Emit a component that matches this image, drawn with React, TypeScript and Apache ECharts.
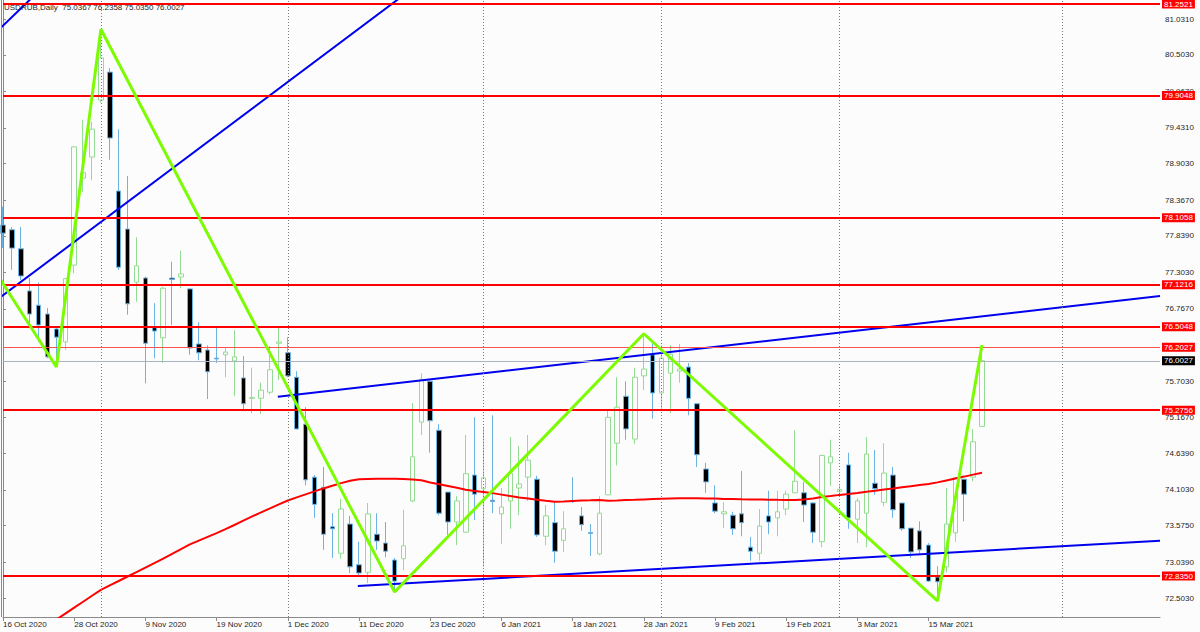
import React, { useEffect, useRef } from "react";
import * as echarts from "echarts";

const symbolName = "USDRUB";
const periodName = "Daily";

const dateLabels = [
  "16 Oct 2020", "28 Oct 2020", "9 Nov 2020", "19 Nov 2020", "1 Dec 2020",
  "11 Dec 2020", "23 Dec 2020", "6 Jan 2021", "18 Jan 2021", "28 Jan 2021",
  "9 Feb 2021", "19 Feb 2021", "3 Mar 2021", "15 Mar 2021",
];

const opens = [
  78.00, 77.93, 77.65, 77.03, 76.82, 76.69, 76.47, 76.28, 77.41, 78.69,
  79.00, 79.84, 80.25, 78.50, 77.94, 77.16, 77.22, 76.49, 76.34, 77.22,
  77.235, 77.06, 76.25, 76.16, 76.04, 76.09, 76.00, 75.75, 75.45, 75.45,
  75.54, 76.26, 76.12, 75.76, 75.07, 74.29, 74.14, 73.56, 73.17, 73.60,
  73.00, 72.89, 73.45, 73.32, 73.07, 73.09, 73.94, 75.10, 75.70, 74.98,
  74.07, 73.63, 73.48, 74.32, 74.12, 73.95, 73.75, 73.94, 74.13, 74.29,
  74.26, 73.42, 73.62, 73.36, 73.94, 73.72, 73.475, 73.16, 74.03, 74.79,
  75.48, 74.85, 75.78, 76.09, 75.53, 75.82, 75.85, 75.91, 75.37, 74.41,
  73.91, 73.75, 73.73, 73.75, 73.26, 73.17, 73.72, 73.69, 73.82, 74.06,
  74.06, 73.91, 73.34, 74.50, 74.08, 74.47, 73.67, 73.76, 74.20, 73.92,
  74.32, 73.91, 73.54, 73.50, 73.29, 72.82, 72.97, 73.47, 74.26, 74.29,
  75.0367,
];
const highs = [
  78.27, 77.97, 77.97, 77.22, 77.15, 76.78, 76.50, 77.22, 79.16, 79.55,
  79.52, 80.88, 80.31, 79.41, 78.72, 77.82, 77.24, 76.85, 77.09, 77.46,
  77.62, 77.07, 76.57, 76.23, 76.51, 76.19, 76.45, 76.07, 75.90, 75.68,
  76.22, 76.50, 76.35, 75.85, 75.32, 74.32, 74.44, 73.76, 73.97, 73.72,
  73.34, 73.91, 73.76, 73.63, 73.10, 73.81, 75.38, 75.82, 75.73, 75.07,
  74.07, 74.01, 74.91, 75.17, 75.03, 75.20, 74.13, 74.88, 74.75, 74.91,
  74.31, 73.88, 73.92, 73.79, 74.29, 73.85, 73.60, 74.01, 75.28, 75.76,
  75.70, 75.90, 76.40, 76.26, 76.23, 76.23, 76.25, 75.97, 75.37, 74.50,
  74.17, 73.92, 73.78, 74.38, 73.41, 73.82, 74.09, 74.09, 74.09, 74.98,
  74.22, 73.92, 74.62, 74.84, 74.17, 74.65, 73.98, 74.88, 74.69, 74.79,
  74.44, 73.91, 73.54, 73.64, 73.32, 72.98, 74.13, 74.29, 74.26, 75.00,
  76.2358,
];
const lows = [
  77.66, 77.34, 77.19, 76.50, 76.28, 76.04, 75.91, 76.16, 77.29, 78.49,
  78.66, 79.80, 78.96, 77.34, 76.68, 76.87, 75.67, 76.04, 75.97, 76.53,
  77.07, 76.09, 76.01, 75.44, 75.97, 75.76, 75.48, 75.26, 75.23, 75.22,
  75.51, 75.72, 75.76, 74.99, 74.17, 73.69, 73.22, 73.10, 73.09, 72.88,
  72.82, 72.73, 73.22, 73.11, 72.60, 72.92, 73.92, 74.91, 74.65, 73.73,
  73.44, 73.29, 73.48, 73.66, 72.97, 73.76, 73.31, 73.53, 73.73, 73.94,
  73.41, 73.29, 73.03, 73.19, 73.91, 73.50, 73.13, 73.14, 74.03, 74.46,
  74.84, 74.78, 75.57, 75.15, 75.29, 75.23, 75.68, 75.20, 74.44, 74.06,
  73.76, 73.54, 73.44, 73.42, 73.06, 73.06, 73.45, 73.42, 73.73, 74.06,
  73.63, 73.32, 73.26, 74.16, 74.03, 73.53, 73.32, 73.26, 74.03, 73.86,
  73.69, 73.50, 73.10, 73.17, 72.75, 72.47, 72.89, 73.34, 73.64, 74.23,
  75.035,
];
const closes = [
  77.88, 77.66, 77.25, 76.69, 76.53, 76.06, 76.35, 77.21, 79.15, 78.77,
  79.41, 80.46, 79.28, 77.38, 76.84, 77.40, 76.26, 76.44, 77.07, 77.20,
  77.28, 76.19, 76.12, 75.84, 76.03, 76.13, 76.06, 75.37, 75.46, 75.57,
  75.87, 76.28, 75.78, 75.00, 74.25, 73.89, 73.45, 73.53, 73.82, 72.97,
  72.88, 73.75, 73.35, 73.20, 72.76, 73.28, 74.59, 75.73, 75.12, 73.76,
  73.63, 73.94, 74.34, 74.04, 74.28, 73.93, 73.85, 74.35, 74.19, 74.54,
  73.44, 73.72, 73.20, 73.53, 73.93, 73.59, 73.46, 73.76, 75.17, 75.32,
  75.00, 75.76, 75.88, 75.53, 76.04, 76.10, 75.88, 75.45, 74.62, 74.22,
  73.79, 73.78, 73.53, 73.62, 73.20, 73.57, 73.63, 73.78, 74.04, 74.23,
  73.88, 73.48, 74.61, 74.59, 74.11, 73.69, 73.94, 74.63, 74.12, 74.35,
  73.81, 73.53, 73.19, 73.22, 72.76, 72.75, 73.60, 74.28, 74.04, 74.81,
  76.0027,
];

const movingAverage = [
  null, null, null, null, null, null, 72.195, 72.282, 72.369, 72.457,
  72.545, 72.631, 72.697, 72.762, 72.828, 72.893, 72.959, 73.024, 73.091, 73.160,
  73.231, 73.300, 73.356, 73.412, 73.467, 73.524, 73.586, 73.649, 73.712, 73.772,
  73.830, 73.889, 73.946, 73.993, 74.037, 74.080, 74.124, 74.163, 74.202, 74.236,
  74.258, 74.262, 74.265, 74.266, 74.265, 74.262, 74.257, 74.245, 74.210, 74.186,
  74.161, 74.133, 74.105, 74.087, 74.073, 74.055, 74.033, 74.011, 73.992, 73.976,
  73.959, 73.943, 73.929, 73.932, 73.939, 73.945, 73.949, 73.954, 73.942, 73.946,
  73.952, 73.956, 73.962, 73.968, 73.973, 73.977, 73.979, 73.979, 73.979, 73.977,
  73.974, 73.970, 73.967, 73.964, 73.962, 73.961, 73.959, 73.956, 73.955, 73.953,
  73.961, 73.977, 73.998, 74.012, 74.029, 74.043, 74.058, 74.074, 74.090, 74.107,
  74.123, 74.140, 74.157, 74.173, 74.189, 74.213, 74.242, 74.270, 74.298, 74.327,
  74.355,
];

const slotCount = 131;
const priceMin = 72.2321;
const priceMax = 81.311;
const yTicks = [
  72.503, 73.039, 73.575, 74.103, 74.639, 75.167, 75.703, 76.767,
  77.303, 77.839, 78.367, 78.903, 79.431, 79.967, 80.503, 81.031,
];
const thickLevels = [81.2521, 79.9048, 78.1058, 77.1216, 76.5048, 75.2756, 72.835];
const thinLevel = 76.2027;
const bidLevel = 76.0027;
const monthStarts = [11, 32, 54, 74, 94, 119];

const zigzag = [
  [-0.26, 77.19], [6, 75.91], [11, 80.88], [44, 72.6], [72, 76.4], [105, 72.47], [110, 76.2358],
];
const trendUpperLeft = [[-0.26, 76.94], [45.8, 81.46]];
const trendCorner = [[-0.26, 80.9], [3.34, 81.355]];
const channelTop = [[30.88, 75.474], [130, 76.955]];
const channelBottom = [[39.87, 72.688], [130, 73.355]];

const FONT = '"Liberation Sans", Arial, sans-serif';
const RED = "#ff0000";
const BLUE = "#0000ee";
const GREEN = "#7cfc00";
const AXIS = "#8a8a8a";
const TEXT = "#1e1e1e";

const slotNames = Array.from({ length: slotCount }, (_, i) => String(i));
const showDate = (i: number) => i % 8 === 0 && i / 8 < dateLabels.length;

function tagLabel(value: number, bg: string) {
  return {
    show: true,
    position: "end",
    distance: 2,
    formatter: () => value.toFixed(4),
    backgroundColor: bg,
    color: "#ffffff",
    fontSize: 8,
    fontFamily: FONT,
    lineHeight: 9,
    padding: [0, 2, 0, 2],
  };
}

function trendSeries(data: number[][], color: string, width: number) {
  return {
    type: "line",
    xAxisIndex: 1,
    yAxisIndex: 0,
    data,
    showSymbol: false,
    symbol: "none",
    silent: true,
    clip: true,
    lineStyle: { color, width },
    z: 4,
  };
}

function buildOption() {
  const last = opens.length - 1;
  const title = `${symbolName},${periodName}  ${opens[last].toFixed(4)} ${highs[last].toFixed(4)} ${lows[last].toFixed(4)} ${closes[last].toFixed(4)}`;
  return {
    animation: false,
    backgroundColor: "#fcfcfc",
    grid: { left: 2.3, right: 40, top: 0, height: 617, containLabel: false },
    xAxis: [
      {
        type: "category",
        data: slotNames,
        boundaryGap: false,
        axisLine: { show: true, lineStyle: { color: AXIS, width: 1 } },
        axisTick: { show: true, length: 4, interval: (i: number) => showDate(i), lineStyle: { color: AXIS } },
        axisLabel: {
          show: true,
          interval: (i: number) => showDate(i),
          formatter: (_v: string, i: number) => (showDate(i) ? dateLabels[i / 8] : ""),
          align: "left",
          margin: 3,
          fontSize: 8,
          color: TEXT,
          fontFamily: FONT,
        },
        splitLine: { show: false },
      },
      { type: "value", min: 0, max: slotCount - 1, show: false },
    ],
    yAxis: {
      type: "value",
      position: "right",
      min: priceMin,
      max: priceMax,
      scale: true,
      axisLine: { show: true, lineStyle: { color: AXIS, width: 1 } },
      axisTick: { show: true, length: 3, customValues: yTicks, lineStyle: { color: AXIS } },
      axisLabel: {
        customValues: yTicks,
        formatter: (v: number) => Number(v).toFixed(4),
        margin: 5,
        fontSize: 8,
        color: TEXT,
        fontFamily: FONT,
      },
      splitLine: { show: false },
    },
    graphic: [
      {
        type: "line",
        shape: { x1: 1.5, y1: 0, x2: 1.5, y2: 617 },
        style: { stroke: AXIS, lineWidth: 1 },
        z: 10,
      },
      {
        type: "text",
        left: 4,
        top: 3,
        style: { text: title, fontSize: 8, fill: TEXT, fontFamily: FONT },
        z: 10,
      },
    ],
    series: [
      {
        type: "candlestick",
        xAxisIndex: 0,
        yAxisIndex: 0,
        data: opens.map((o, i) => [o, closes[i], lows[i], highs[i]]),
        barWidth: 5,
        clip: false,
        silent: true,
        itemStyle: {
          color: "#fcfcfc",
          color0: "#000000",
          borderColor: "#94dc94",
          borderColor0: "#6cb4e4",
          borderWidth: 1,
        },
        z: 2,
      },
      {
        type: "line",
        xAxisIndex: 0,
        yAxisIndex: 0,
        data: movingAverage,
        showSymbol: false,
        symbol: "none",
        silent: true,
        clip: true,
        connectNulls: false,
        lineStyle: { color: RED, width: 2 },
        z: 3,
        markLine: {
          silent: true,
          symbol: "none",
          animation: false,
          precision: 4,
          data: [
            ...monthStarts.map((m) => ({
              xAxis: m,
              lineStyle: { color: "#7a7a7a", width: 1, type: [1, 2] },
              label: { show: false },
            })),
            ...thickLevels.map((v) => ({
              yAxis: v,
              lineStyle: { color: RED, width: 2, type: "solid" },
              label: tagLabel(v, RED),
            })),
            { yAxis: thinLevel, lineStyle: { color: "#ff5050", width: 1, type: "solid" }, label: tagLabel(thinLevel, RED) },
            { yAxis: bidLevel, lineStyle: { color: "#a9b1c2", width: 1, type: "solid" }, label: tagLabel(bidLevel, "#000000") },
          ],
        },
      },
      trendSeries(trendUpperLeft, BLUE, 2),
      trendSeries(trendCorner, BLUE, 2),
      trendSeries(channelTop, BLUE, 2),
      trendSeries(channelBottom, BLUE, 2),
      { ...trendSeries(zigzag, GREEN, 3), z: 5 },
    ],
  };
}

export default function App() {
  const ref = useRef<HTMLDivElement>(null);
  useEffect(() => {
    if (!ref.current) return;
    const chart = echarts.init(ref.current, null, { renderer: "svg" });
    chart.setOption(buildOption() as any);
    return () => chart.dispose();
  }, []);
  return (
    <div
      ref={ref}
      style={{ position: "fixed", left: 0, top: 0, width: 1200, height: 632 }}
    />
  );
}
